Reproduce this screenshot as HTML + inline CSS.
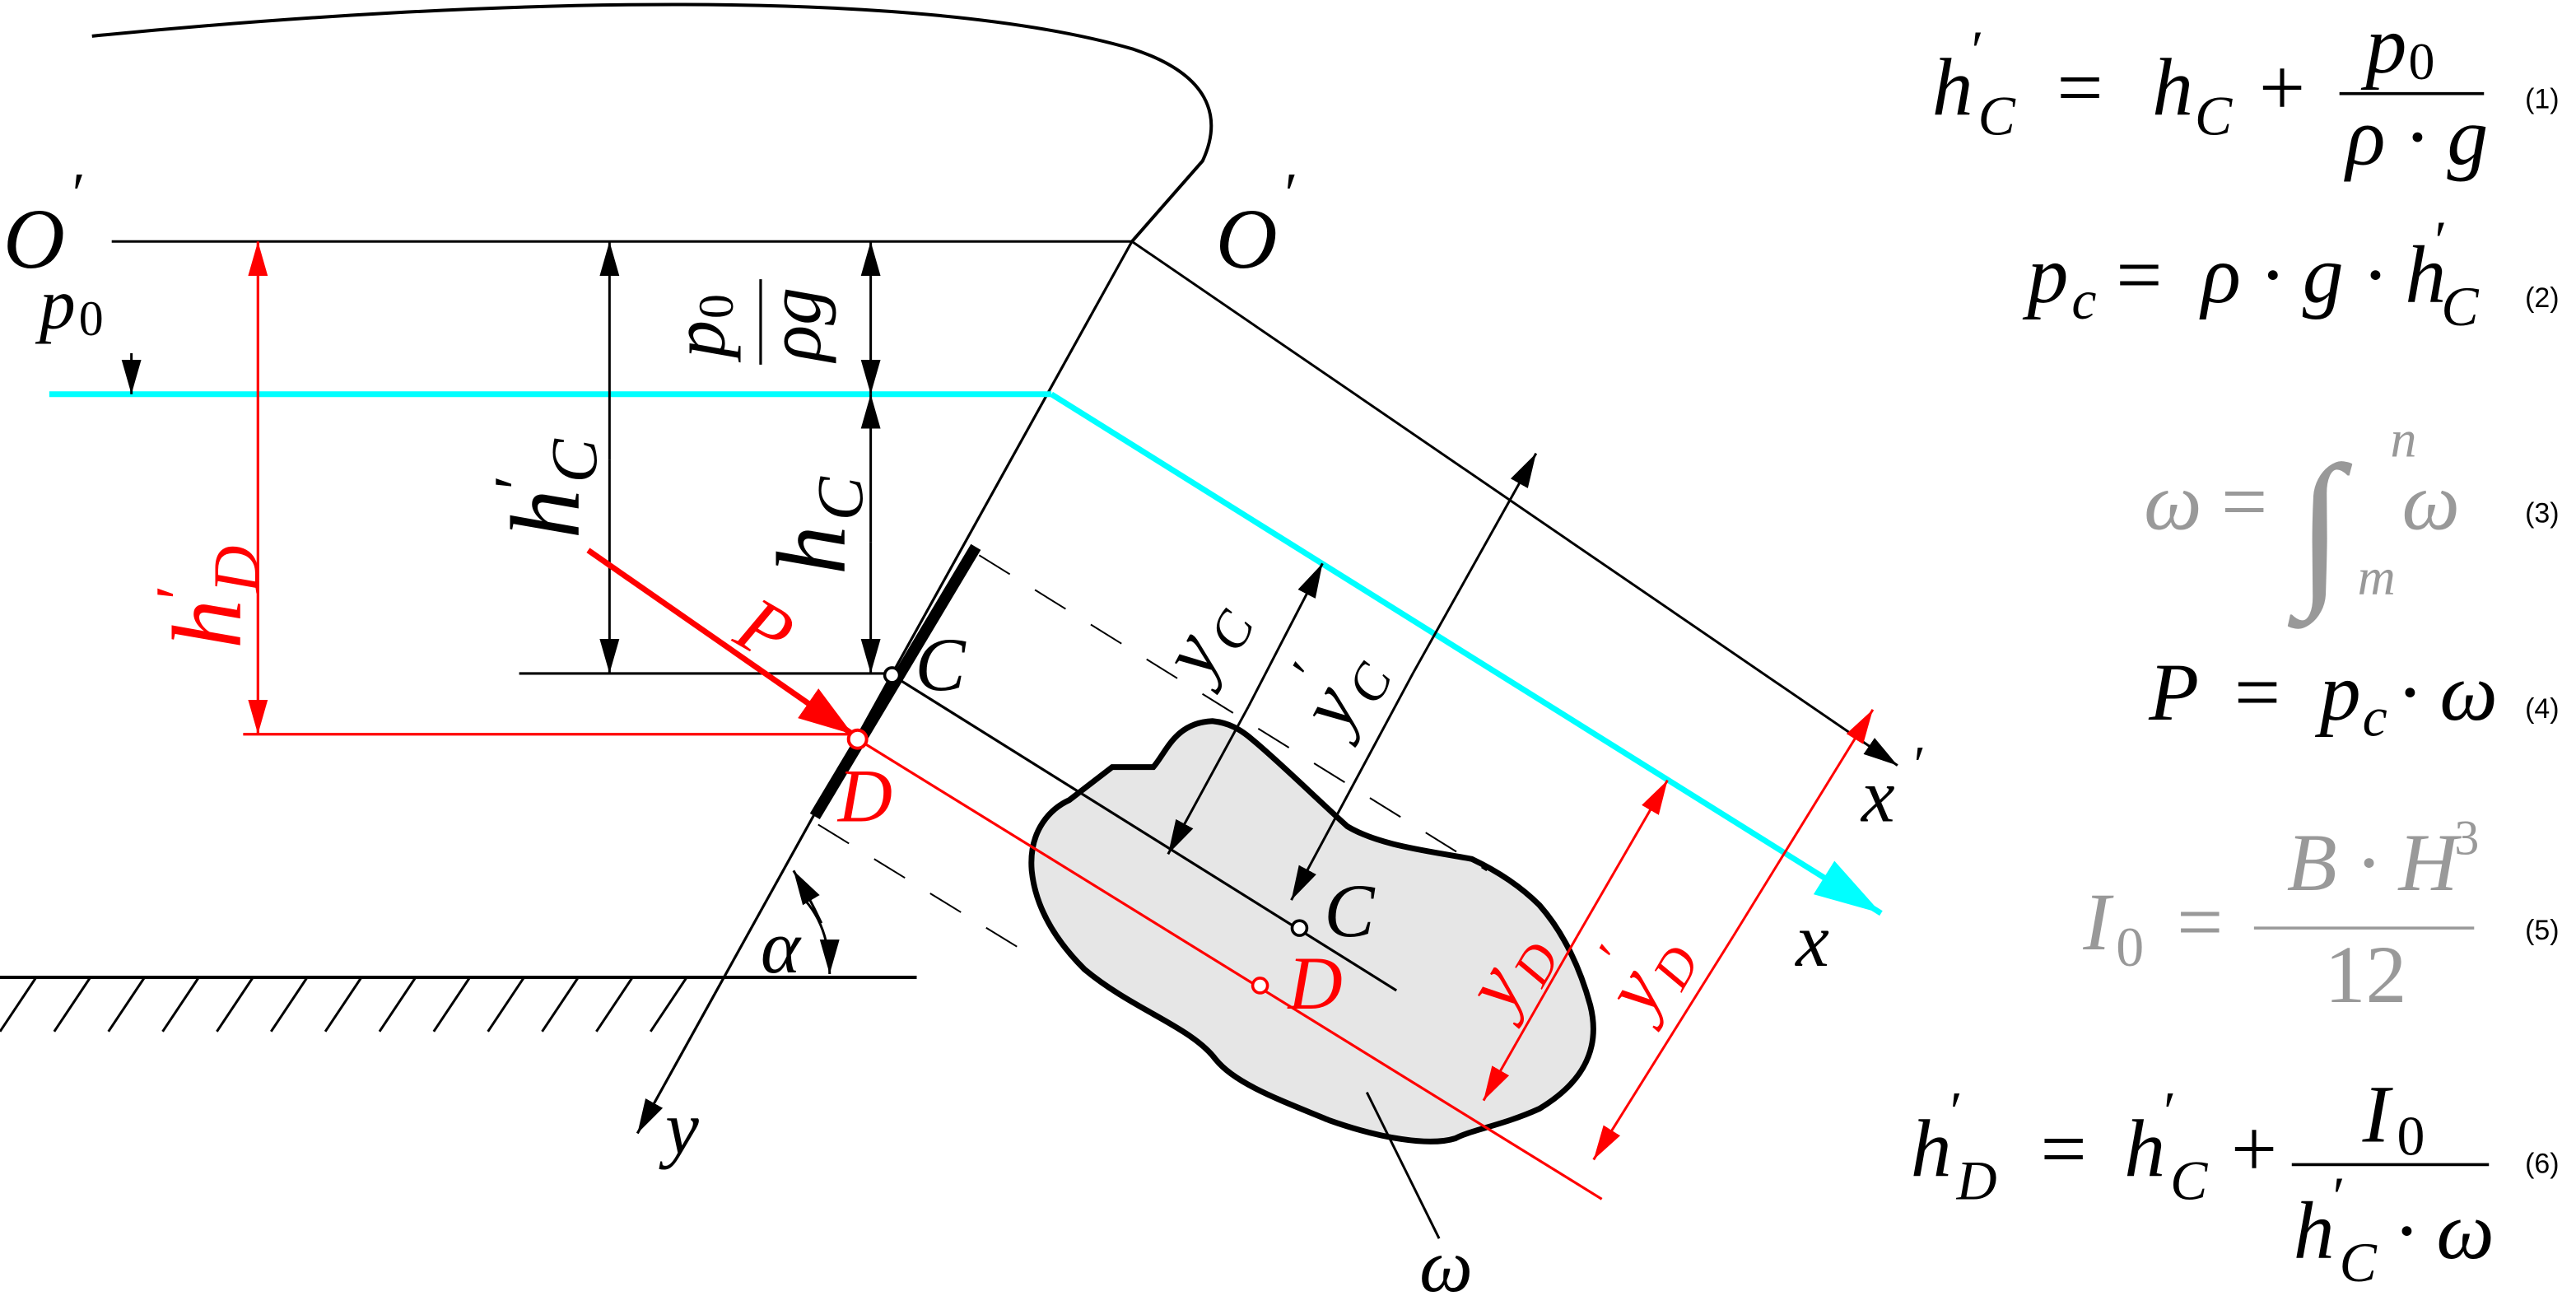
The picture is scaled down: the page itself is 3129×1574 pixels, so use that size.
<!DOCTYPE html>
<html><head><meta charset="utf-8"><style>
html,body{margin:0;padding:0;background:#fff;}
svg{display:block;}
text{font-family:"Liberation Serif",serif;font-style:italic;}
.up{font-style:normal;}
.n{font-family:"Liberation Sans",sans-serif;font-style:normal;font-size:17px;}
</style></head><body>
<svg width="3129" height="1574" viewBox="0 0 1568 789" preserveAspectRatio="none" xmlns="http://www.w3.org/2000/svg">
<defs>
<marker id="ab" markerUnits="userSpaceOnUse" markerWidth="22" markerHeight="14" refX="21" refY="6" orient="auto"><path d="M0,0 L21,6 L0,12 Z" fill="#000"/></marker>
<marker id="ar" markerUnits="userSpaceOnUse" markerWidth="22" markerHeight="14" refX="21" refY="6" orient="auto"><path d="M0,0 L21,6 L0,12 Z" fill="#f00"/></marker>
<marker id="arb" markerUnits="userSpaceOnUse" markerWidth="34" markerHeight="24" refX="33" refY="11" orient="auto"><path d="M0,0 L33,11 L0,22 Z" fill="#f00"/></marker>
<marker id="ac" markerUnits="userSpaceOnUse" markerWidth="42" markerHeight="26" refX="41" refY="12" orient="auto"><path d="M0,0 L41,12 L0,24 Z" fill="#0ff"/></marker>
</defs>

<path d="M738,439 C748,440 755,444 762,450 C780,465 800,485 820,503 C840,515 870,518 896,523 C915,532 928,542 937,551 C952,568 962,590 968,612 C975,640 962,660 937,675 C915,685 895,688 886,693 C870,698 840,693 809,682 C780,670 752,660 740,645 C725,625 690,615 660,590 C640,570 630,550 628,530 C626,505 640,492 651,487 L677,467 L702,467 C710,458 715,440 738,439 Z" fill="#e6e6e6" stroke="#000" stroke-width="3.5"/>

<path d="M56,22 C300,-2 560,-8 690,30 C735,45 745,70 732,98 L689,147" fill="none" stroke="#000" stroke-width="2"/>
<line x1="689" y1="147" x2="388" y2="690" stroke="#000" stroke-width="1.6" marker-end="url(#ab)"/>
<line x1="594" y1="333" x2="496" y2="497" stroke="#000" stroke-width="7"/>

<line x1="68" y1="147" x2="689" y2="147" stroke="#000" stroke-width="1.5"/>
<line x1="689" y1="147" x2="1155" y2="466" stroke="#000" stroke-width="1.5" marker-end="url(#ab)"/>
<line x1="30" y1="240" x2="640" y2="240" stroke="#0ff" stroke-width="3.5"/>
<line x1="640" y1="240" x2="1145" y2="556" stroke="#0ff" stroke-width="3.5" marker-end="url(#ac)"/>

<line x1="80" y1="215" x2="80" y2="240" stroke="#000" stroke-width="1.5" marker-end="url(#ab)"/>
<line x1="157" y1="300" x2="157" y2="147" stroke="#f00" stroke-width="1.6" marker-end="url(#ar)"/>
<line x1="157" y1="300" x2="157" y2="447" stroke="#f00" stroke-width="1.6" marker-end="url(#ar)"/>
<line x1="371" y1="280" x2="371" y2="147" stroke="#000" stroke-width="1.5" marker-end="url(#ab)"/>
<line x1="371" y1="280" x2="371" y2="410" stroke="#000" stroke-width="1.5" marker-end="url(#ab)"/>
<line x1="530" y1="195" x2="530" y2="147" stroke="#000" stroke-width="1.5" marker-end="url(#ab)"/>
<line x1="530" y1="195" x2="530" y2="240" stroke="#000" stroke-width="1.5" marker-end="url(#ab)"/>
<line x1="530" y1="330" x2="530" y2="240" stroke="#000" stroke-width="1.5" marker-end="url(#ab)"/>
<line x1="530" y1="330" x2="530" y2="410" stroke="#000" stroke-width="1.5" marker-end="url(#ab)"/>
<line x1="316" y1="410" x2="543" y2="410" stroke="#000" stroke-width="1.6"/>
<line x1="148" y1="447" x2="522" y2="447" stroke="#f00" stroke-width="1.6"/>

<line x1="596" y1="338" x2="905" y2="530" stroke="#000" stroke-width="1" stroke-dasharray="22,18"/>
<line x1="498" y1="502" x2="625" y2="580" stroke="#000" stroke-width="1" stroke-dasharray="22,18"/>

<line x1="543" y1="411" x2="850" y2="603" stroke="#000" stroke-width="1.6"/>
<line x1="522" y1="450" x2="975" y2="730" stroke="#f00" stroke-width="1.6"/>

<line x1="358" y1="335" x2="519" y2="447" stroke="#f00" stroke-width="3.5" marker-end="url(#arb)"/>

<line x1="760" y1="430" x2="805" y2="343" stroke="#000" stroke-width="1.5" marker-end="url(#ab)"/>
<line x1="760" y1="430" x2="711" y2="520" stroke="#000" stroke-width="1.5" marker-end="url(#ab)"/>
<line x1="860" y1="410" x2="935" y2="276" stroke="#000" stroke-width="1.5" marker-end="url(#ab)"/>
<line x1="860" y1="410" x2="786" y2="548" stroke="#000" stroke-width="1.5" marker-end="url(#ab)"/>
<line x1="960" y1="570" x2="1015" y2="475" stroke="#f00" stroke-width="1.5" marker-end="url(#ar)"/>
<line x1="960" y1="570" x2="903" y2="670" stroke="#f00" stroke-width="1.5" marker-end="url(#ar)"/>
<line x1="1055" y1="570" x2="1140" y2="432" stroke="#f00" stroke-width="1.5" marker-end="url(#ar)"/>
<line x1="1055" y1="570" x2="970" y2="706" stroke="#f00" stroke-width="1.5" marker-end="url(#ar)"/>

<circle cx="543" cy="411" r="4.5" fill="#fff" stroke="#000" stroke-width="1.8"/>
<circle cx="522" cy="450" r="5.5" fill="#fff" stroke="#f00" stroke-width="2"/>
<circle cx="791" cy="565" r="4.5" fill="#fff" stroke="#000" stroke-width="1.8"/>
<circle cx="767" cy="600" r="4.5" fill="#fff" stroke="#f00" stroke-width="1.8"/>

<line x1="832" y1="665" x2="876" y2="754" stroke="#000" stroke-width="1.5"/>

<line x1="0" y1="595" x2="558" y2="595" stroke="#000" stroke-width="2"/>
<g stroke="#000" stroke-width="1.5">
<line x1="22" y1="595" x2="0" y2="628"/><line x1="55" y1="595" x2="33" y2="628"/><line x1="88" y1="595" x2="66" y2="628"/><line x1="121" y1="595" x2="99" y2="628"/><line x1="154" y1="595" x2="132" y2="628"/><line x1="187" y1="595" x2="165" y2="628"/><line x1="220" y1="595" x2="198" y2="628"/><line x1="253" y1="595" x2="231" y2="628"/><line x1="286" y1="595" x2="264" y2="628"/><line x1="319" y1="595" x2="297" y2="628"/><line x1="352" y1="595" x2="330" y2="628"/><line x1="385" y1="595" x2="363" y2="628"/><line x1="418" y1="595" x2="396" y2="628"/>
</g>
<path d="M490,548 Q505,565 505,593" fill="none" stroke="#000" stroke-width="1.5" marker-end="url(#ab)"/>
<path d="M500,562 Q492,545 483,530" fill="none" stroke="#000" stroke-width="1.5" marker-end="url(#ab)"/>

<g font-size="52">
<text x="2" y="163">O</text><text x="44" y="130" font-size="36" class="up">′</text>
<text x="740" y="163">O</text><text x="782" y="130" font-size="36" class="up">′</text>
<text x="24" y="200" font-size="44">p</text><text x="48" y="204" font-size="30" class="up">0</text>
<text x="557" y="420" font-size="46">C</text>
<text x="510" y="500" font-size="46" fill="#f00">D</text>
<text x="806" y="570" font-size="46">C</text>
<text x="784" y="614" font-size="46" fill="#f00">D</text>
<text x="463" y="592" font-size="46">α</text>
<text x="405" y="702" font-size="46">y</text>
<text x="1093" y="588" font-size="46">x</text>
<text x="1133" y="500" font-size="46">x</text><text x="1165" y="476" font-size="32" class="up">′</text>
<text x="864" y="786" font-size="46">ω</text>
</g>
<g transform="translate(352,328) rotate(-90)"><text x="0" y="0" font-size="60">h</text><text x="30" y="-24" font-size="40" class="up">′</text><text x="34" y="11" font-size="40">C</text></g>
<g transform="translate(514,350) rotate(-90)"><text x="0" y="0" font-size="60">h</text><text x="33" y="11" font-size="40">C</text></g>
<g transform="translate(146,395) rotate(-90)" fill="#f00"><text x="0" y="0" font-size="60">h</text><text x="30" y="-24" font-size="40" class="up">′</text><text x="34" y="11" font-size="40">D</text></g>
<g transform="translate(463,222) rotate(-90)"><text x="4" y="-22" font-size="46">p</text><text x="28" y="-17" font-size="30" class="up">0</text><line x1="0" y1="0" x2="52" y2="0" stroke="#000" stroke-width="1.6"/><text x="2" y="36" font-size="46">ρg</text></g>
<g transform="translate(445,390) rotate(30)"><text x="0" y="0" font-size="48" fill="#f00">P</text></g>
<g transform="translate(734,415) rotate(-62)"><text x="0" y="0" font-size="48">y</text><text x="24" y="10" font-size="32">C</text></g>
<g transform="translate(818,447) rotate(-62)"><text x="0" y="0" font-size="48">y</text><text x="20" y="-26" font-size="32" class="up">′</text><text x="24" y="10" font-size="32">C</text></g>
<g transform="translate(918,618) rotate(-60)" fill="#f00"><text x="0" y="0" font-size="48">y</text><text x="24" y="10" font-size="32">D</text></g>
<g transform="translate(1003,620) rotate(-60)" fill="#f00"><text x="0" y="0" font-size="48">y</text><text x="20" y="-26" font-size="32" class="up">′</text><text x="24" y="10" font-size="32">D</text></g>

<g font-size="50">
<text x="1176" y="70">h</text><text x="1200" y="42" font-size="34" class="up">′</text><text x="1204" y="82" font-size="34">C</text>
<text x="1252" y="70" class="up">=</text>
<text x="1310" y="70">h</text><text x="1336" y="82" font-size="34">C</text>
<text x="1375" y="70" class="up">+</text>
<text x="1440" y="44">p</text><text x="1466" y="48" font-size="32" class="up">0</text>
<line x1="1424" y1="57" x2="1512" y2="57" stroke="#000" stroke-width="1.8"/>
<text x="1428" y="100">ρ · g</text>
<text x="1537" y="66" class="n">(1)</text>
<text x="1234" y="184">p</text><text x="1261" y="194" font-size="34">c</text>
<text x="1288" y="184" class="up">=</text>
<text x="1340" y="184">ρ · g · h</text><text x="1482" y="158" font-size="34" class="up">′</text><text x="1486" y="198" font-size="34">C</text>
<text x="1537" y="187" class="n">(2)</text>
<g fill="#999">
<text x="1305" y="322">ω</text><text x="1352" y="322" class="up">=</text>
<text x="1398" y="355" font-size="104" class="up">∫</text>
<text x="1455" y="278" font-size="32">n</text><text x="1435" y="362" font-size="32">m</text>
<text x="1462" y="322">ω</text>
</g>
<text x="1537" y="318" class="n">(3)</text>
<text x="1308" y="438">P</text><text x="1360" y="438" class="up">=</text>
<text x="1412" y="438">p</text><text x="1438" y="448" font-size="34">c</text>
<text x="1460" y="438">· ω</text>
<text x="1537" y="437" class="n">(4)</text>
<g fill="#999">
<text x="1268" y="578">I</text><text x="1288" y="588" font-size="34" class="up">0</text>
<text x="1325" y="578" class="up">=</text>
<text x="1392" y="542">B · H</text><text x="1494" y="520" font-size="30" class="up">3</text>
<line x1="1372" y1="565" x2="1506" y2="565" stroke="#999" stroke-width="1.8"/>
<text x="1415" y="610" class="up">12</text>
</g>
<text x="1537" y="572" class="n">(5)</text>
<text x="1163" y="716">h</text><text x="1187" y="688" font-size="34" class="up">′</text><text x="1191" y="730" font-size="34">D</text>
<text x="1242" y="716" class="up">=</text>
<text x="1293" y="716">h</text><text x="1317" y="688" font-size="34" class="up">′</text><text x="1321" y="730" font-size="34">C</text>
<text x="1358" y="716" class="up">+</text>
<text x="1438" y="695">I</text><text x="1459" y="703" font-size="34" class="up">0</text>
<line x1="1395" y1="709" x2="1515" y2="709" stroke="#000" stroke-width="1.8"/>
<text x="1396" y="766">h</text><text x="1420" y="740" font-size="34" class="up">′</text><text x="1424" y="780" font-size="34">C</text>
<text x="1458" y="766">· ω</text>
<text x="1537" y="714" class="n">(6)</text>
</g>
</svg>
</body></html>
